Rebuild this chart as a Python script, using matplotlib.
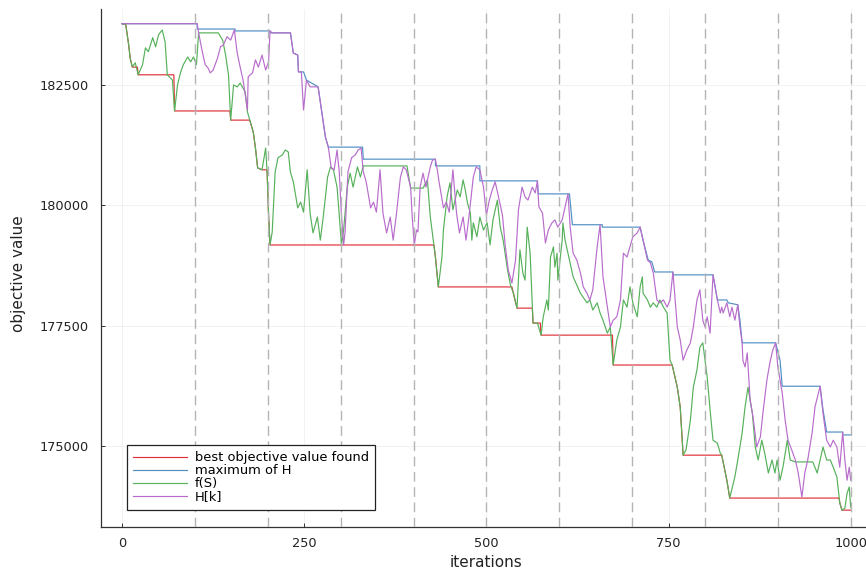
import matplotlib
matplotlib.use("Agg")
import matplotlib.pyplot as plt

# ---------------- data ----------------
best_iter = [0, 5, 9, 11, 14, 21, 22, 71, 72, 148, 149, 175, 176, 180, 183, 186, 192, 198, 199, 201,
             203, 428, 430, 434, 535, 537, 542, 563, 564, 574, 575, 673, 674, 755, 762, 766, 770, 823, 830, 834,
             984, 985, 988, 1000]
best_val = [183770, 183750, 183330, 183060, 182870, 182870, 182710, 182710, 181960, 181960,
            181770, 181770, 181730, 181520, 181190, 180780, 180740, 180740, 180690, 179800,
            179180, 179180, 178930, 178310, 178310, 178180, 177870, 177870, 177560, 177560,
            177310, 177310, 176690, 176690, 176230, 175820, 174820, 174820, 174300, 173930,
            173930, 173830, 173680, 173680]

maxh_iter = [0, 103, 103, 155, 155, 203, 203, 231, 235, 241, 242, 249, 253, 269, 275, 279, 283, 330, 331, 430,
             430, 491, 491, 570, 571, 614, 618, 659, 659, 711, 715, 722, 727, 731, 756, 756, 811, 817, 830, 832,
             845, 848, 851, 897, 903, 906, 958, 962, 967, 989, 989, 1000]
maxh_val = [183770, 183770, 183660, 183660, 183620, 183620, 183580, 183580, 183160, 183120,
            182770, 182770, 182600, 182460, 181840, 181420, 181210, 181210, 180960, 180960,
            180820, 180820, 180510, 180510, 180240, 180240, 179600, 179600, 179550, 179550,
            179280, 178870, 178830, 178620, 178620, 178560, 178560, 178040, 178040, 177980,
            177940, 177620, 177150, 177150, 176790, 176250, 176250, 175760, 175300, 175300,
            175240, 175240]

fs_iter = [0, 5, 9, 11, 14, 18, 22, 28, 32, 36, 42, 46, 50, 55, 59, 62, 69, 72, 76, 80,
           84, 90, 94, 98, 102, 105, 132, 138, 142, 146, 149, 153, 158, 162, 169, 172, 176, 180, 183, 186,
           192, 197, 199, 201, 203, 206, 210, 214, 220, 224, 228, 231, 235, 241, 245, 249, 254, 258, 262, 268,
           272, 276, 282, 286, 290, 295, 298, 301, 304, 309, 313, 317, 323, 327, 331, 391, 396, 413, 419, 423,
           427, 430, 434, 439, 441, 446, 450, 454, 460, 464, 468, 471, 474, 478, 480, 482, 487, 491, 496, 501,
           505, 509, 515, 519, 523, 529, 533, 537, 542, 546, 550, 553, 556, 560, 564, 570, 575, 578, 583, 585,
           588, 592, 594, 597, 598, 601, 604, 605, 608, 619, 629, 638, 642, 646, 652, 656, 660, 666, 670, 674,
           679, 684, 688, 693, 697, 701, 707, 711, 714, 715, 721, 725, 729, 734, 738, 743, 748, 752, 755, 762,
           766, 770, 774, 780, 784, 789, 793, 797, 800, 803, 807, 811, 817, 821, 823, 830, 834, 841, 845, 851,
           855, 859, 865, 869, 873, 878, 882, 887, 892, 896, 899, 903, 907, 913, 917, 924, 948, 954, 958, 962,
           967, 972, 976, 981, 985, 988, 992, 995, 998, 1000]
fs_val = [183770, 183750, 183330, 183060, 182870, 182960, 182710, 182920, 183270, 183190,
          183480, 183290, 183540, 183640, 183390, 182710, 182600, 181960, 182500, 182750,
          182920, 183080, 182980, 183080, 182920, 183580, 183580, 183430, 183120, 182710,
          181770, 182500, 182460, 182540, 182350, 181940, 181730, 181520, 181190, 180780,
          180740, 181190, 180690, 179800, 179180, 179450, 180690, 180990, 181050, 181150,
          181110, 180690, 180490, 179950, 180070, 179860, 180740, 179840, 179430, 179760,
          179280, 179760, 180590, 180800, 180740, 180380, 179800, 179180, 179490, 180380,
          180670, 180380, 180800, 180590, 180820, 180820, 180360, 180360, 180530, 179760,
          179280, 178930, 178310, 178930, 179490, 180180, 180470, 179910, 180320, 180180,
          180530, 180320, 180050, 179840, 179280, 179640, 179350, 179760, 179490, 179640,
          179180, 179700, 180110, 179550, 179280, 178660, 178350, 178180, 177870, 179080,
          178600, 178450, 179550, 179010, 177560, 177560, 177310, 177690, 178040, 177830,
          178930, 179140, 178720, 179010, 178450, 178870, 179280, 179640, 179280, 178520,
          178180, 177980, 178040, 177830, 177980, 177770, 177620, 177350, 177480, 176690,
          177210, 177480, 178040, 177890, 178310, 177980, 177690, 178310, 178520, 178180,
          178040, 177890, 177980, 177890, 178040, 177890, 177770, 176790, 176690, 176230,
          175820, 174820, 174930, 175550, 176230, 176590, 177060, 177150, 176790, 176440,
          175760, 175130, 175070, 174860, 174820, 174300, 173930, 174370, 174720, 175280,
          175820, 176230, 175690, 174990, 174720, 175130, 174860, 174450, 174720, 174450,
          174720, 174300, 174570, 175130, 174720, 174680, 174680, 174450, 174720, 174990,
          174720, 174720, 174570, 174370, 173830, 173680, 173720, 174030, 174160, 173740]

hk_iter = [0, 103, 105, 110, 114, 118, 121, 125, 131, 135, 139, 144, 149, 154, 158, 162, 166, 172, 173, 179,
           183, 187, 192, 197, 201, 203, 206, 231, 235, 241, 242, 246, 249, 253, 258, 269, 275, 279, 283, 287,
           291, 295, 298, 301, 304, 306, 310, 315, 320, 324, 328, 331, 335, 341, 345, 349, 354, 358, 363, 368,
           372, 376, 382, 386, 390, 396, 398, 401, 404, 406, 409, 413, 417, 423, 426, 430, 433, 435, 441, 445,
           449, 454, 459, 463, 468, 472, 476, 482, 486, 491, 496, 500, 504, 508, 512, 516, 522, 526, 530, 535,
           540, 544, 549, 553, 557, 563, 567, 570, 572, 577, 581, 585, 590, 594, 598, 604, 608, 612, 615, 619,
           624, 629, 633, 638, 642, 646, 652, 656, 660, 666, 670, 674, 679, 684, 688, 693, 697, 701, 707, 711,
           715, 721, 725, 729, 734, 738, 743, 748, 752, 756, 762, 766, 770, 775, 780, 784, 789, 793, 797, 800,
           803, 807, 811, 814, 817, 821, 823, 825, 830, 834, 837, 841, 845, 848, 851, 852, 855, 858, 862, 866,
           871, 876, 880, 885, 889, 893, 897, 900, 906, 910, 914, 919, 924, 928, 933, 937, 941, 947, 951, 955,
           958, 962, 967, 972, 976, 981, 985, 989, 992, 995, 998, 1000]
hk_val = [183770, 183770, 183580, 183190, 182920, 182850, 182750, 182810, 183060, 183290,
          183330, 183500, 183430, 183640, 183160, 182870, 182600, 181980, 182670, 182750,
          183020, 182870, 183120, 182810, 182980, 183620, 183580, 183580, 183160, 183120,
          182770, 182770, 181980, 182600, 182460, 182460, 181840, 181420, 181210, 180780,
          180740, 181150, 180700, 179800, 179180, 179450, 180700, 180990, 181050, 181150,
          181190, 180700, 180490, 179950, 180070, 179860, 180740, 179840, 179430, 179760,
          179280, 179760, 180590, 180800, 180740, 180380, 179800, 179180, 179490, 179450,
          180380, 180670, 180380, 180800, 180940, 180960, 180700, 180490, 179950, 180070,
          179860, 180740, 179840, 179430, 179760, 179280, 179760, 180590, 180800, 180740,
          180380, 179800, 180110, 180320, 180490, 180220, 179800, 179140, 178660, 178390,
          178870, 179910, 180380, 180180, 180110, 180380, 180260, 180510, 179970, 179840,
          179220, 179490, 179640, 179700, 179550, 179700, 179970, 180240, 179550, 179010,
          178870, 178600, 178310, 178180, 178040, 178250, 179140, 179600, 178520, 177890,
          177480, 177620, 177690, 178040, 179010, 178930, 179140, 179350, 179430, 179550,
          179280, 178870, 178810, 178600, 178040, 177980, 178040, 177890, 178040, 178620,
          177480, 177210, 176790, 177000, 177150, 177480, 178040, 178250, 177620, 177480,
          177690, 177350, 178560, 178310, 178040, 177770, 177890, 177770, 177980, 177690,
          177890, 177620, 177940, 177480, 177150, 176790, 176650, 176940, 175960, 175610,
          174990, 175200, 175760, 176380, 176730, 177000, 177150, 176650, 176110, 175550,
          175130, 174930, 174720, 174450, 173950, 174450, 174720, 175280, 175820, 176070,
          176250, 175690, 175130, 174990, 175130, 174990, 174570, 175300, 174720, 174300,
          174570, 174300]

series_labels = ["best objective value found", "maximum of H", "f(S)", "H[k]"]
restart_iters = [100, 200, 300, 400, 500, 600, 700, 800, 900, 1000]
x_ticks = [0, 250, 500, 750, 1000]
y_ticks = [175000, 177500, 180000, 182500]
x_label = "iterations"
y_label = "objective value"

# ---------------- plot ----------------
plt.rcParams['font.family'] = ['DejaVu Sans']
fig = plt.figure(figsize=(8.66, 5.72), dpi=100)
ax = fig.add_axes([101/866, 45/572, 765/866, 518/572])

colors = ["#e0323a", "#4f8fc4", "#56b15a", "#b86ccc"]
lw = 0.85
ax.plot(best_iter, best_val, color=colors[0], lw=lw, label=series_labels[0], zorder=3)
ax.plot(maxh_iter, maxh_val, color=colors[1], lw=lw, label=series_labels[1], zorder=3)
ax.plot(fs_iter, fs_val, color=colors[2], lw=lw, label=series_labels[2], zorder=3)
ax.plot(hk_iter, hk_val, color=colors[3], lw=lw, label=series_labels[3], zorder=3)

for xv in restart_iters:
    ax.axvline(xv, color="#b4b4b4", lw=1.0, dashes=(7, 4), zorder=4)

ax.set_xlim(-29, 1021)
ax.set_ylim(173330, 184075)
ax.set_xticks(x_ticks)
ax.set_yticks(y_ticks)
ax.set_xticklabels([str(v) for v in x_ticks])
ax.set_yticklabels([str(v) for v in y_ticks])
ax.grid(True, color="#000000", alpha=0.06, lw=0.6, zorder=0)

for side in ["top", "right"]:
    ax.spines[side].set_visible(False)
for side in ["left", "bottom"]:
    ax.spines[side].set_color("#333333")
    ax.spines[side].set_linewidth(0.9)

ax.tick_params(axis="both", direction="in", length=3, width=0.7, color="#333333",
               labelsize=9.3, labelcolor="#222222")
ax.tick_params(axis="y", pad=9)
ax.tick_params(axis="x", pad=7)

ax.set_xlabel(x_label, fontsize=11, color="#222222")
ax.set_ylabel(y_label, fontsize=11, color="#222222")
ax.xaxis.set_label_coords(0.503, -0.054)
ax.yaxis.set_label_coords(-0.098, 0.49)

leg = ax.legend(loc="lower left", bbox_to_anchor=(0.0336, 0.0328), borderaxespad=0,
                fontsize=9.4, frameon=True, fancybox=False, framealpha=1,
                edgecolor="#222222", handlelength=4.1, handletextpad=0.6,
                labelspacing=0.0, borderpad=0.5)
leg.get_frame().set_linewidth(0.9)
leg.set_zorder(10)

fig.savefig("out.png", dpi=100)
